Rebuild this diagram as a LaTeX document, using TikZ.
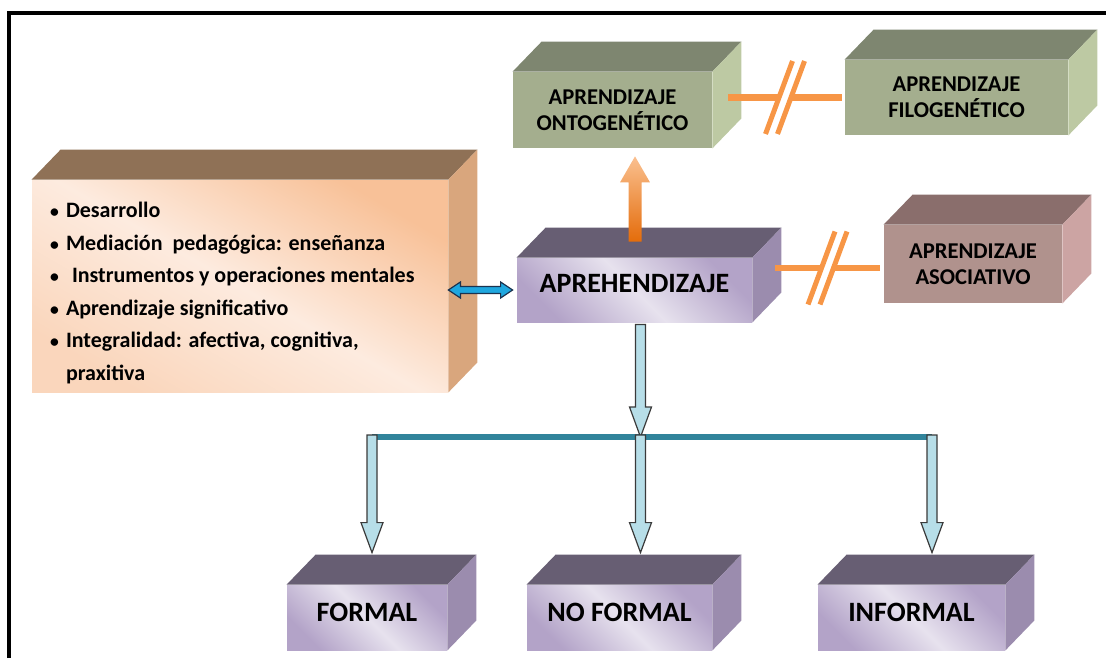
\documentclass[tikz,border=0pt]{standalone}
\usepackage{fontspec}
\usepackage{graphicx}
\setmainfont{Carlito}
\usetikzlibrary{calc}

\definecolor{grnTop}{HTML}{7E8670}
\definecolor{grnFront}{HTML}{A4AE8E}
\definecolor{grnSide}{HTML}{BDC9A3}
\definecolor{pchTop}{HTML}{8F7156}
\definecolor{pchSide}{HTML}{D9A67D}
\definecolor{pchDark}{HTML}{F8C198}
\definecolor{pchLight}{HTML}{FDEBDF}
\definecolor{pchMid}{HTML}{FAD6BC}
\definecolor{purTop}{HTML}{675E73}
\definecolor{purSide}{HTML}{9B8CAE}
\definecolor{purDark}{HTML}{B3A3C8}
\definecolor{purLight}{HTML}{E7E2EE}
\definecolor{mauTop}{HTML}{8A6E6C}
\definecolor{mauFront}{HTML}{B0928D}
\definecolor{mauSide}{HTML}{CCA4A3}
\definecolor{linkOrange}{HTML}{F79646}
\definecolor{barTeal}{HTML}{31849B}
\definecolor{arrowBlue}{HTML}{B7DEE8}
\definecolor{arrowEdge}{HTML}{3A3A3A}
\definecolor{dblBlue}{HTML}{1FA7DF}
\definecolor{dblEdge}{HTML}{1B3350}
\definecolor{upLight}{HTML}{FAC090}
\definecolor{upDark}{HTML}{E46C0A}

\tikzset{
  boxtext/.style={font=\fontsize{11.3}{13}\selectfont\bfseries, align=center},
  greenface/.style={fill=grnFront, boxtext},
  mauveface/.style={fill=mauFront, boxtext},
  purpleface/.style={top color=purDark, bottom color=purDark, middle color=purLight, shading angle=-45},
  kindface/.style={purpleface, font=\fontsize{14}{16}\selectfont\bfseries, text height=9pt, text depth=5pt},
  peachface/.style={top color=pchDark, bottom color=pchMid, middle color=pchLight, shading angle=-30},
  linkline/.style={draw=linkOrange, line width=3pt},
  linkslash/.style={draw=linkOrange, line width=2.5pt},
  blockdown/.style={draw=arrowEdge, fill=arrowBlue, line width=0.6pt, line join=miter},
}

% a box drawn as a cuboid: front face node from (x1,y1) to (x2,y2), then top and side faces
\newcommand\cuboid[9]{%
  \node[inner sep=0pt, minimum width={(#4-#2)*0.5pt}, minimum height={(#5-#3)*0.5pt}, #6]
    (#1) at ({(#2+#4)/2},{(#3+#5)/2}) {#9};
  \fill[#7] (#1.north west) -- ++(29,-30) -- ([shift={(29,-30)}]#1.north east) -- (#1.north east) -- cycle;
  \fill[#8] (#1.north east) -- ++(29,-30) -- ([shift={(29,-30)}]#1.south east) -- (#1.south east) -- cycle;
}

% orange line broken by a double slash halfway
\newcommand\brokenlink[2]{%
  \coordinate (mid) at ($(#1)!0.5!(#2)$);
  \draw[linkline] (#1) -- ($(mid)+(-6,0)$);
  \draw[linkline] ($(mid)+(6,0)$) -- (#2);
  \draw[linkslash] ($(mid)+(-6,0)+(13.5,-36.5)$) -- ($(mid)+(-6,0)+(-13.5,36.5)$);
  \draw[linkslash] ($(mid)+(6,0)+(13.5,-36.5)$) -- ($(mid)+(6,0)+(-13.5,36.5)$);
}

% light blue block arrow pointing down
\newcommand\downblock[2]{%
  \path[blockdown] let \p1=(#1), \p2=(#2) in
    (\x1-2.5pt,\y1) -- (\x1+2.5pt,\y1) -- (\x1+2.5pt,\y2+15pt) -- (\x1+5.5pt,\y2+15pt)
    -- (\x1,\y2) -- (\x1-5.5pt,\y2+15pt) -- (\x1-2.5pt,\y2+15pt) -- cycle;
}

% list bullet with its gap
\newcommand\bul{\hspace*{1pt}\makebox[8pt][l]{\scalebox{0.8}{\textbullet}}}

\begin{document}
\begin{tikzpicture}[x=0.5pt, y=-0.5pt]
\useasboundingbox (0,0) rectangle (1106,658);

% frame
\draw[line width=2pt] (9,658) -- (9,13.5) -- (1106,13.5);

% boxes
\cuboid{onto}{513}{72}{712}{148}{greenface}{grnTop}{grnSide}{APRENDIZAJE\\ONTOGENÉTICO}
\cuboid{filo}{845}{60}{1068}{135}{greenface}{grnTop}{grnSide}{APRENDIZAJE\\FILOGENÉTICO}
\cuboid{left}{32}{180}{448}{392}{peachface, font=\fontsize{11}{16.25}\selectfont\bfseries}{pchTop}{pchSide}{%
\parbox{192pt}{\raggedright\vspace*{7pt}%
\bul Desarrollo\\
\bul Mediación\ \ pedagógica: enseñanza\\
\bul\hspace{3pt}Instrumentos y operaciones mentales\\
\bul Aprendizaje significativo\\
\bul Integralidad: afectiva, cognitiva,\\
\hspace*{9pt}praxitiva}}
\cuboid{apr}{517}{258}{752}{322}{purpleface, font=\fontsize{14}{16}\selectfont\bfseries, text height=9pt, text depth=7pt}{purTop}{purSide}{APREHENDIZAJE\hspace{7pt}}
\cuboid{asoc}{884}{225}{1062}{303}{mauveface}{mauTop}{mauSide}{APRENDIZAJE\\ASOCIATIVO}
\cuboid{formal}{287}{585}{447}{650}{kindface}{purTop}{purSide}{FORMAL\hspace{5pt}}
\cuboid{noformal}{527}{585}{712}{650}{kindface}{purTop}{purSide}{NO FORMAL}
\cuboid{informal}{818}{585}{1005}{650}{kindface}{purTop}{purSide}{INFORMAL\hspace{4pt}}

% broken links
\coordinate (ontoR) at ($(onto.east |- filo.west)+(16,0)$);
\coordinate (filoL) at ($(filo.west)+(-3,0)$);
\brokenlink{ontoR}{filoL}
\coordinate (aprR) at ($(apr.east)+(23,-22)$);
\coordinate (asocL) at ($(asoc.west |- aprR)+(-4,0)$);
\brokenlink{aprR}{asocL}

% orange arrow up
\coordinate (upfoot) at ($(apr.north)+(0.5,-16)$);
\coordinate (uptip) at ($(upfoot |- onto.south)+(0,8)$);
\shade[top color=upLight, bottom color=upDark] let \p1=(upfoot), \p2=(uptip) in
  (\x1-3.25pt,\y1) -- (\x1+3.25pt,\y1) -- (\x1+3.25pt,\y2-13pt) -- (\x1+7.5pt,\y2-13pt)
  -- (\x1,\y2) -- (\x1-7.5pt,\y2-13pt) -- (\x1-3.25pt,\y2-13pt) -- cycle;

% double arrow between the list and the central box
\coordinate (dblL) at (left.east |- apr.west);
\coordinate (dblR) at ($(apr.west)+(-4,0)$);
\path[draw=dblEdge, fill=dblBlue, line width=0.6pt] let \p1=(dblL), \p2=(dblR) in
  (\x1,\y1) -- (\x1+6pt,\y1+4pt) -- (\x1+6pt,\y1+1.75pt) -- (\x2-6pt,\y1+1.75pt)
  -- (\x2-6pt,\y1+4pt) -- (\x2,\y1) -- (\x2-6pt,\y1-4pt) -- (\x2-6pt,\y1-1.75pt)
  -- (\x1+6pt,\y1-1.75pt) -- (\x1+6pt,\y1-4pt) -- cycle;

% branching to the three kinds
\coordinate (barY) at (0,437);
\coordinate (d0) at ($(apr.south)+(6,2)$);
\coordinate (hub) at (d0 |- barY);
\coordinate (barL) at (372,437);
\coordinate (barR) at (932,437);
\draw[barTeal, line width=3pt] (barL) -- (barR);
\downblock{d0}{hub}
\downblock{$(barL)+(0,-2)$}{$(barL |- formal.north)+(0,-32)$}
\downblock{$(hub)+(0,-2)$}{$(hub |- noformal.north)+(0,-32)$}
\downblock{$(barR)+(0,-2)$}{$(barR |- informal.north)+(0,-32)$}
\end{tikzpicture}
\end{document}
